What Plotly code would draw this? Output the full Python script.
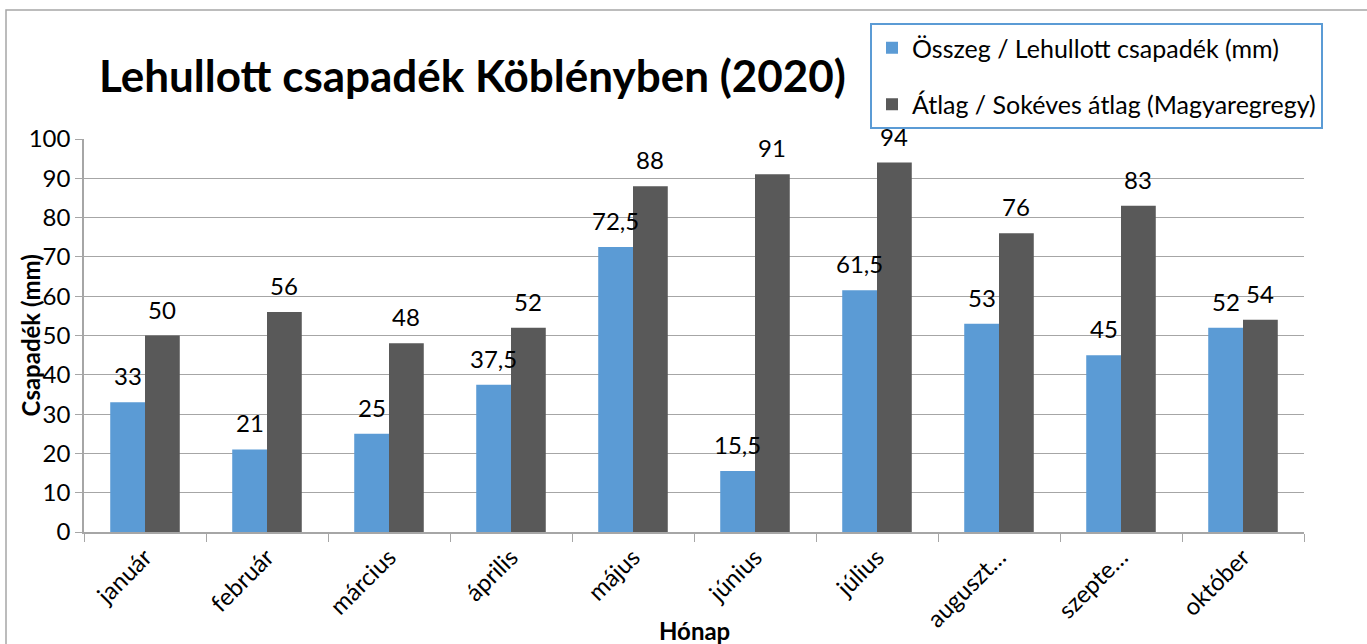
import plotly.graph_objects as go

months = ["január", "február", "március", "április", "május", "június",
          "július", "auguszt…", "szepte…", "október"]
osszeg = [33, 21, 25, 37.5, 72.5, 15.5, 61.5, 53, 45, 52]
atlag = [50, 56, 48, 52, 88, 91, 94, 76, 83, 54]
name_osszeg = "Összeg / Lehullott csapadék (mm)"
name_atlag = "Átlag / Sokéves átlag (Magyaregregy)"

BLUE = "#5B9BD5"
GRAY = "#595959"
FONT = "Lato"
FS = 24

W, H = 1367, 644
ML, MR, MT, MB = 84, 63, 139, 112
BARGAP = 0.43

def fmt(v):
    return ("%g" % v).replace(".", ",")

fig = go.Figure()
fig.add_trace(go.Bar(x=months, y=osszeg, name=name_osszeg, marker_color=BLUE,
                     legendgroup="a", marker_line_width=0))
fig.add_trace(go.Bar(x=months, y=atlag, name=name_atlag, marker_color=GRAY,
                     legendgroup="b", marker_line_width=0))

plot_w = W - ML - MR
plot_h = H - MT - MB
cat_w = plot_w / len(months)
bar_w = cat_w * (1 - BARGAP) / 2
annotations = []
for series, sign in ((osszeg, -1), (atlag, 1)):
    for m, v in zip(months, series):
        annotations.append(dict(x=m, y=v, xref="x", yref="y", text=fmt(v),
                                showarrow=False, xshift=sign * bar_w / 2,
                                yanchor="bottom", yshift=10,
                                font=dict(family=FONT, size=FS, color="#000")))

annotations.append(dict(text="<b>Csapadék (mm)</b>", textangle=-90,
                        xref="paper", yref="paper", x=(30 - ML) / plot_w, y=0.5,
                        xanchor="center", yanchor="middle", showarrow=False,
                        font=dict(family=FONT, size=FS, color="#000")))
annotations.append(dict(text="<b>Hónap</b>", xref="paper", yref="paper",
                        x=0.5, y=-(630 - (H - MB)) / plot_h, xanchor="center",
                        yanchor="middle", showarrow=False,
                        font=dict(family=FONT, size=FS, color="#000")))
annotations.append(dict(text="<b>Lehullott csapadék Köblényben (2020)</b>",
                        xref="paper", yref="paper", x=(97 - ML) / plot_w,
                        y=((H - MB) - 75) / plot_h,
                        xanchor="left", yanchor="middle", showarrow=False,
                        font=dict(family=FONT, size=44, color="#000")))

fig.update_layout(
    width=W, height=H,
    margin=dict(l=ML, r=MR, t=MT, b=MB),
    paper_bgcolor="white", plot_bgcolor="white",
    barmode="group", bargap=BARGAP, bargroupgap=0,
    font=dict(family=FONT, size=FS, color="#000"),
    showlegend=True,
    legend=dict(x=(870 - ML) / plot_w, y=((H - MB) - 23) / plot_h,
                xanchor="left", yanchor="top",
                bordercolor=BLUE, borderwidth=2, bgcolor="white",
                traceorder="grouped", tracegroupgap=21,
                font=dict(family=FONT, size=25, color="#000")),
    annotations=annotations,
    shapes=[dict(type="rect", xref="paper", yref="paper",
                 x0=(6 - ML) / plot_w, x1=(1380 - ML) / plot_w,
                 y0=-0.5, y1=((H - MB) - 10) / plot_h,
                 line=dict(color="#A6A6A6", width=1.5), layer="below")],
    xaxis=dict(showline=True, linecolor="#A6A6A6", linewidth=1.5,
               ticks="outside", ticklen=8, tickcolor="#A6A6A6",
               tickson="boundaries", tickangle=-45,
               tickfont=dict(family=FONT, size=FS, color="#000"),
               showgrid=False),
    yaxis=dict(range=[0, 100], dtick=10, showline=True, linecolor="#A6A6A6",
               linewidth=1.5, ticks="outside", ticklen=7, tickcolor="#A6A6A6",
               showgrid=True, gridcolor="#A6A6A6", gridwidth=1.2,
               zeroline=False,
               tickfont=dict(family=FONT, size=FS, color="#000")),
)

fig.write_html("out.html", config={"displayModeBar": False},
               post_script="document.body.style.margin='0';")
